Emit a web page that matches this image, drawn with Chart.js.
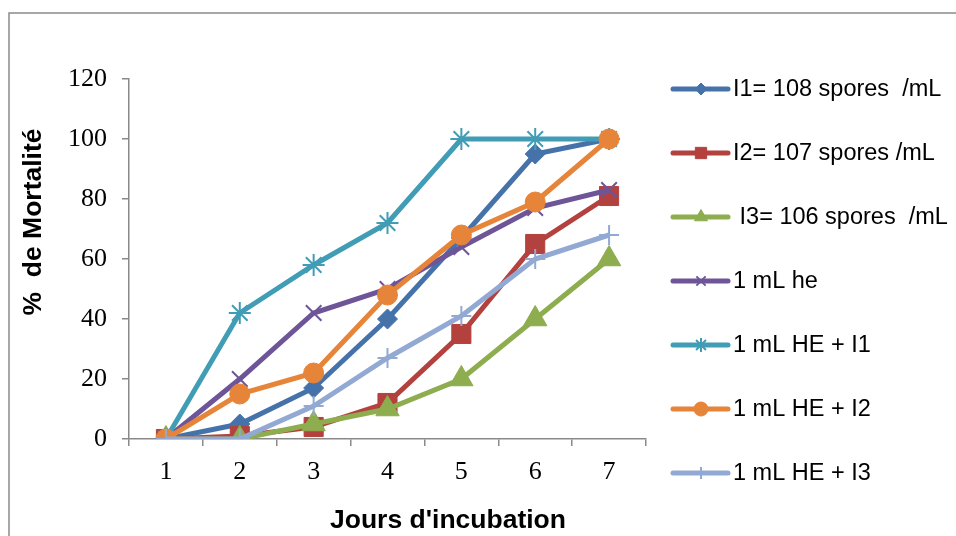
<!DOCTYPE html>
<html>
<head>
<meta charset="utf-8">
<script src="https://cdn.jsdelivr.net/npm/chart.js@4/dist/chart.umd.min.js"></script>
<style>
  html, body { margin: 0; padding: 0; background: #ffffff; }
  #wrap { position: relative; width: 956px; height: 536px; }
</style>
</head>
<body>
<div id="wrap"><canvas id="c" width="956" height="536"></canvas></div>
<script>
// ---- data ----
const days = ['1', '2', '3', '4', '5', '6', '7'];
const yTicks = [0, 20, 40, 60, 80, 100, 120];
const seriesNames = [
  'I1= 108 spores  /mL',
  'I2= 107 spores /mL',
  ' I3= 106 spores  /mL',
  '1 mL he',
  '1 mL HE + I1',
  '1 mL HE + I2',
  '1 mL HE + I3'
];
const i1   = [0, 5, 17, 40, 67, 95, 100];
const i2   = [0, 1, 4, 12, 35, 65, 81];
const i3   = [0, 0, 5, 10, 20, 40, 60];
const he   = [0, 20, 42, 50, 64, 77, 83];
const heI1 = [0, 42, 58, 72, 100, 100, 100];
const heI2 = [0, 15, 22, 48, 68, 79, 100];
const heI3 = [0, 0, 11, 27, 41, 60, 68];
const xTitle = "Jours d'incubation";
const yTitle = '%  de Mortalité';

// ---- styles ----
const colors = ['#4672AA', '#B3413E', '#8DAD4F', '#6E5598', '#419DB5', '#E6843A', '#92AAD3'];
const styles = ['rectRot', 'rect', 'triangle', 'crossRot', 'star', 'circle', 'cross'];
const radii  = [10, 13.5, 13.5, 11, 11, 10, 10];
const legendRadii = [6, 8, 7.5, 6.5, 7, 7, 6];
const values = [i1, i2, i3, he, heI1, heI2, heI3];
const axisColor = '#898989';

const datasets = values.map((v, i) => {
  const stroked = ['crossRot', 'star', 'cross'].includes(styles[i]);
  return {
    label: seriesNames[i],
    data: v,
    borderColor: colors[i],
    backgroundColor: colors[i],
    borderWidth: 5,
    tension: 0,
    pointStyle: styles[i],
    pointRadius: radii[i],
    pointBackgroundColor: colors[i],
    pointBorderColor: colors[i],
    pointBorderWidth: stroked ? 2 : 1,
    order: values.length - i
  };
});

const framePlugin = {
  id: 'frame',
  beforeDraw(chart) {
    const ctx = chart.ctx;
    ctx.save();
    ctx.strokeStyle = '#8a8a8a';
    ctx.lineWidth = 1.5;
    ctx.beginPath();
    ctx.moveTo(9, 536);
    ctx.lineTo(9, 13);
    ctx.lineTo(956, 13);
    ctx.stroke();
    ctx.restore();
  },
  afterDraw(chart) {
    const ctx = chart.ctx;
    ctx.save();
    // axis titles
    ctx.fillStyle = '#000';
    ctx.font = 'bold 26.5px "Liberation Sans", Arial, sans-serif';
    ctx.textAlign = 'center';
    ctx.textBaseline = 'middle';
    ctx.fillText(xTitle, 448, 521);
    ctx.translate(34, 222);
    ctx.rotate(-Math.PI / 2);
    ctx.fillText(yTitle, 0, 0);
    ctx.restore();

    // legend
    ctx.save();
    chart.data.datasets.forEach((ds, i) => {
      const y = 89 + 64 * i;
      ctx.strokeStyle = ds.borderColor;
      ctx.lineWidth = 5;
      ctx.lineCap = 'round';
      ctx.beginPath();
      ctx.moveTo(673, y);
      ctx.lineTo(728, y);
      ctx.stroke();
      ctx.fillStyle = ds.borderColor;
      ctx.strokeStyle = ds.borderColor;
      ctx.lineWidth = ds.pointBorderWidth;
      ctx.lineCap = 'butt';
      Chart.helpers.drawPoint(ctx, {
        pointStyle: ds.pointStyle,
        radius: legendRadii[i],
        borderWidth: ds.pointBorderWidth,
        rotation: 0
      }, 701, y);
      ctx.fillStyle = '#000';
      ctx.font = '23.5px "Liberation Sans", Arial, sans-serif';
      ctx.textAlign = 'left';
      ctx.textBaseline = 'middle';
      ctx.fillText(ds.label, 733, y + 1);
    });
    ctx.restore();
  }
};

new Chart(document.getElementById('c'), {
  type: 'line',
  data: { labels: days, datasets },
  options: {
    responsive: false,
    animation: false,
    events: [],
    layout: { padding: { left: 0, top: 79, right: 310, bottom: 0 } },
    plugins: { legend: { display: false }, tooltip: { enabled: false } },
    scales: {
      x: {
        type: 'category',
        offset: true,
        grid: { offset: true, drawOnChartArea: false, drawTicks: true, tickLength: 7, color: axisColor, lineWidth: 1.5 },
        border: { color: axisColor, width: 1.5 },
        ticks: { color: '#000', font: { family: '"Liberation Serif", "Times New Roman", serif', size: 26 }, padding: 11, maxRotation: 0 },
        afterFit(scale) { scale.height = 536 - 439; }
      },
      y: {
        min: 0,
        max: 120,
        afterBuildTicks(scale) { scale.ticks = yTicks.map(v => ({ value: v })); },
        grid: { drawOnChartArea: false, drawTicks: true, tickLength: 7, color: axisColor, lineWidth: 1.5 },
        border: { color: axisColor, width: 1.5 },
        ticks: { color: '#000', font: { family: '"Liberation Serif", "Times New Roman", serif', size: 26 }, padding: 15 },
        afterFit(scale) { scale.width = 129; }
      }
    }
  },
  plugins: [framePlugin]
});
</script>
</body>
</html>
